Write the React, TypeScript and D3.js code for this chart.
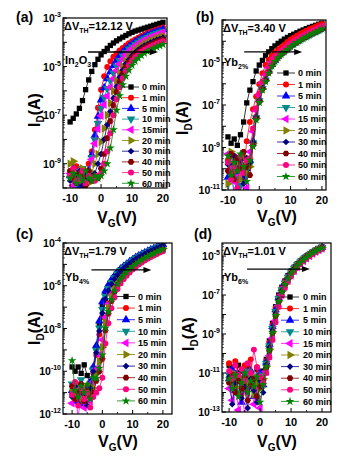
import * as d3 from "d3";

// gate voltage (V) for every row below
const VG = [-10, -9, -8, -7, -6, -5, -4, -3, -2, -1, 0, 1, 2, 3, 4, 5, 6, 7, 8, 9, 10, 11, 12, 13, 14, 15, 16, 17, 18, 19, 20];

const TIMES = ["0 min", "1 min", "5 min", "10 min", "15 min", "20 min", "30 min", "40 min", "50 min", "60 min"];
const TIMES_A = ["0 min", "1 min", "5 min", "10 min", "15min", "20 min", "30 min", "40 min", "50 min", "60 min"];
const COLORS = ["#000000", "#ff0000", "#0000ff", "#008b8b", "#ff00ff", "#808000", "#000080", "#800000", "#ff0080", "#008000"];
const SHAPES = ["square", "circle", "up", "down", "left", "right", "diamond", "hexagon", "circle", "star"];

// log10(I_D / A), one row per time
const IN2O3 = [
  [-7.28, -7.13, -6.95, -6.72, -6.4, -5.95, -5.55, -5.2, -4.92, -4.7, -4.52, -4.38, -4.25, -4.13, -4.03, -3.94, -3.86, -3.79, -3.72, -3.65, -3.59, -3.54, -3.5, -3.46, -3.42, -3.38, -3.34, -3.3, -3.26, -3.22, -3.18],
  [-9.3, -9.7, -9.1, -9.5, -9.8, -9.4, -9.0, -8.5, -7.6, -6.7, -5.95, -5.4, -5.02, -4.78, -4.6, -4.46, -4.34, -4.23, -4.13, -4.04, -3.96, -3.88, -3.81, -3.74, -3.68, -3.62, -3.57, -3.52, -3.47, -3.43, -3.39],
  [-9.5, -9.2, -9.6, -9.9, -9.4, -9.7, -9.3, -8.63, -7.83, -7.05, -6.38, -5.87, -5.5, -5.21, -4.96, -4.74, -4.56, -4.41, -4.28, -4.17, -4.08, -3.99, -3.91, -3.84, -3.77, -3.71, -3.66, -3.61, -3.56, -3.52, -3.47],
  [-9.6, -9.3, -9.8, -9.5, -9.2, -9.7, -9.6, -8.74, -8.02, -7.34, -6.73, -6.26, -5.9, -5.57, -5.26, -4.98, -4.75, -4.56, -4.41, -4.28, -4.18, -4.08, -4.0, -3.92, -3.85, -3.79, -3.73, -3.68, -3.63, -3.59, -3.54],
  [-9.4, -9.9, -9.5, -9.3, -9.8, -9.6, -9.4, -8.83, -8.17, -7.57, -7.02, -6.57, -6.21, -5.85, -5.5, -5.16, -4.9, -4.69, -4.51, -4.37, -4.26, -4.15, -4.06, -3.98, -3.91, -3.85, -3.79, -3.74, -3.69, -3.64, -3.6],
  [-9.0, -8.9, -9.4, -9.7, -9.2, -9.5, -9.8, -9.35, -9.0, -8.6, -8.1, -7.55, -7.0, -6.5, -6.0, -5.58, -5.25, -4.99, -4.77, -4.6, -4.46, -4.33, -4.23, -4.14, -4.07, -4.0, -3.94, -3.89, -3.83, -3.79, -3.74],
  [-9.7, -9.4, -9.6, -9.3, -9.9, -9.5, -9.6, -9.5, -9.4, -9.0, -8.6, -8.0, -7.4, -6.85, -6.3, -5.82, -5.44, -5.14, -4.89, -4.71, -4.55, -4.42, -4.31, -4.22, -4.14, -4.08, -4.01, -3.96, -3.9, -3.86, -3.81],
  [-9.3, -9.6, -9.8, -9.4, -9.5, -9.9, -9.3, -9.7, -9.5, -9.6, -9.2, -8.6, -7.95, -7.25, -6.6, -6.05, -5.62, -5.29, -5.02, -4.82, -4.65, -4.51, -4.4, -4.3, -4.22, -4.15, -4.09, -4.03, -3.97, -3.93, -3.88],
  [-9.5, -9.2, -9.7, -9.6, -9.3, -9.8, -9.5, -9.6, -9.7, -9.5, -9.4, -9.0, -8.5, -7.75, -7.0, -6.35, -5.85, -5.48, -5.17, -4.95, -4.77, -4.62, -4.5, -4.4, -4.31, -4.24, -4.18, -4.12, -4.06, -4.01, -3.96],
  [-9.6, -9.4, -9.8, -9.5, -9.7, -9.3, -9.6, -9.7, -9.5, -9.6, -9.5, -9.3, -9.0, -8.35, -7.6, -6.8, -6.2, -5.75, -5.4, -5.15, -4.95, -4.78, -4.65, -4.54, -4.45, -4.38, -4.31, -4.25, -4.19, -4.14, -4.09],
];

const YB2 = [
  [-8.5, -8.8, -8.6, -8.9, -8.4, -7.8, -6.9, -6.3, -5.9, -5.4, -5.12, -4.9, -4.68, -4.5, -4.35, -4.22, -4.1, -4.0, -3.9, -3.82, -3.74, -3.67, -3.6, -3.53, -3.47, -3.41, -3.35, -3.3, -3.25, -3.2, -3.15],
  [-9.6, -10.2, -9.4, -10.6, -9.8, -10.1, -8.7, -7.8, -7.2, -6.6, -6.02, -5.5, -5.12, -4.87, -4.68, -4.53, -4.4, -4.28, -4.16, -4.04, -3.92, -3.83, -3.74, -3.66, -3.58, -3.51, -3.44, -3.37, -3.31, -3.25, -3.19],
  [-10.4, -9.9, -11.3, -10.2, -9.7, -10.5, -10.0, -9.6, -8.7, -7.54, -6.75, -6.18, -5.78, -5.4, -5.1, -4.89, -4.71, -4.57, -4.45, -4.33, -4.2, -4.1, -4.01, -3.92, -3.83, -3.75, -3.67, -3.6, -3.53, -3.46, -3.39],
  [-11.2, -10.1, -9.5, -10.4, -10.8, -9.9, -10.3, -9.8, -8.78, -7.6, -6.8, -6.22, -5.82, -5.44, -5.12, -4.91, -4.73, -4.59, -4.47, -4.35, -4.22, -4.12, -4.03, -3.94, -3.85, -3.77, -3.69, -3.61, -3.54, -3.48, -3.4],
  [-9.3, -10.0, -10.6, -9.6, -10.3, -9.5, -10.9, -9.2, -8.25, -7.26, -6.54, -5.98, -5.59, -5.25, -4.98, -4.78, -4.62, -4.48, -4.36, -4.24, -4.11, -4.02, -3.93, -3.84, -3.76, -3.68, -3.6, -3.53, -3.46, -3.4, -3.33],
  [-10.7, -9.2, -10.1, -9.8, -10.5, -9.4, -10.2, -9.9, -8.82, -7.62, -6.82, -6.24, -5.84, -5.45, -5.13, -4.92, -4.74, -4.6, -4.48, -4.36, -4.23, -4.13, -4.04, -3.95, -3.86, -3.78, -3.7, -3.62, -3.55, -3.49, -3.41],
  [-9.8, -10.4, -9.4, -10.0, -9.6, -10.7, -9.5, -9.7, -8.75, -7.57, -6.78, -6.2, -5.8, -5.42, -5.11, -4.9, -4.72, -4.58, -4.46, -4.34, -4.21, -4.11, -4.02, -3.93, -3.84, -3.76, -3.68, -3.6, -3.53, -3.47, -3.4],
  [-10.1, -9.3, -10.5, -9.5, -10.0, -9.2, -9.9, -10.3, -8.9, -7.66, -6.85, -6.27, -5.87, -5.48, -5.15, -4.93, -4.76, -4.61, -4.49, -4.37, -4.24, -4.14, -4.05, -3.96, -3.87, -3.79, -3.71, -3.63, -3.56, -3.49, -3.42],
  [-9.7, -10.5, -9.9, -10.9, -9.4, -10.2, -9.6, -9.5, -8.1, -7.15, -6.45, -5.9, -5.51, -5.19, -4.93, -4.74, -4.59, -4.45, -4.33, -4.21, -4.09, -3.99, -3.9, -3.81, -3.73, -3.65, -3.58, -3.5, -3.44, -3.37, -3.3],
  [-9.4, -10.3, -9.7, -10.1, -9.3, -9.9, -10.6, -9.6, -8.95, -7.7, -6.88, -6.3, -5.9, -5.5, -5.17, -4.95, -4.77, -4.62, -4.5, -4.38, -4.25, -4.15, -4.06, -3.97, -3.88, -3.8, -3.72, -3.64, -3.57, -3.5, -3.42],
];

const YB4 = [
  [-9.8, -10.0, -9.8, -10.1, -9.7, -10.2, -10.6, -9.87, -8.91, -7.81, -6.93, -6.37, -6.04, -5.79, -5.58, -5.41, -5.25, -5.13, -5.02, -4.91, -4.8, -4.7, -4.62, -4.54, -4.47, -4.4, -4.33, -4.27, -4.21, -4.15, -4.09],
  [-11.0, -10.6, -11.3, -10.8, -11.5, -10.7, -11.1, -10.08, -9.24, -8.28, -7.46, -6.74, -6.31, -5.99, -5.73, -5.53, -5.36, -5.22, -5.1, -4.98, -4.87, -4.77, -4.68, -4.6, -4.52, -4.45, -4.38, -4.32, -4.26, -4.19, -4.13],
  [-10.9, -11.4, -10.7, -11.6, -11.0, -10.8, -10.5, -9.8, -8.8, -7.65, -6.75, -6.25, -5.95, -5.72, -5.53, -5.37, -5.22, -5.1, -4.99, -4.88, -4.78, -4.68, -4.6, -4.52, -4.45, -4.38, -4.31, -4.25, -4.19, -4.13, -4.07],
  [-10.6, -11.2, -10.9, -10.4, -11.3, -11.0, -10.7, -9.94, -9.02, -7.97, -7.11, -6.5, -6.13, -5.85, -5.63, -5.45, -5.29, -5.16, -5.04, -4.93, -4.83, -4.72, -4.64, -4.56, -4.49, -4.42, -4.35, -4.28, -4.22, -4.16, -4.1],
  [-11.5, -10.8, -12.2, -11.0, -11.7, -10.9, -11.4, -10.5, -9.9, -9.23, -8.53, -7.48, -6.85, -6.39, -6.04, -5.76, -5.56, -5.4, -5.26, -5.13, -5.01, -4.9, -4.81, -4.72, -4.64, -4.56, -4.49, -4.42, -4.36, -4.29, -4.23],
  [-10.8, -11.1, -10.6, -11.4, -10.9, -11.2, -10.7, -10.8, -10.12, -9.54, -8.88, -7.72, -7.03, -6.52, -6.14, -5.84, -5.63, -5.46, -5.31, -5.18, -5.06, -4.94, -4.85, -4.75, -4.67, -4.6, -4.52, -4.45, -4.39, -4.32, -4.26],
  [-11.2, -10.7, -11.5, -10.9, -11.1, -11.6, -10.8, -10.01, -9.13, -8.12, -7.28, -6.62, -6.22, -5.92, -5.68, -5.49, -5.32, -5.19, -5.07, -4.96, -4.85, -4.75, -4.66, -4.58, -4.51, -4.43, -4.36, -4.3, -4.24, -4.18, -4.12],
  [-10.7, -11.3, -11.0, -10.6, -11.4, -10.9, -11.2, -11.0, -10.45, -10.01, -9.41, -8.09, -7.3, -6.72, -6.3, -5.96, -5.73, -5.55, -5.4, -5.26, -5.13, -5.01, -4.91, -4.81, -4.73, -4.65, -4.57, -4.5, -4.44, -4.37, -4.31],
  [-11.1, -10.5, -11.6, -10.8, -11.3, -11.0, -11.7, -11.2, -11.0, -10.8, -10.3, -8.7, -7.75, -7.05, -6.55, -6.15, -5.9, -5.7, -5.53, -5.38, -5.24, -5.12, -5.01, -4.91, -4.82, -4.74, -4.66, -4.59, -4.52, -4.45, -4.39],
  [-9.5, -10.9, -11.2, -10.7, -11.0, -10.6, -11.3, -10.3, -10.34, -9.86, -9.24, -7.97, -7.21, -6.65, -6.24, -5.92, -5.7, -5.52, -5.37, -5.23, -5.1, -4.99, -4.89, -4.79, -4.71, -4.63, -4.56, -4.49, -4.42, -4.35, -4.29],
];

const YB6 = [
  [-10.6, -10.7, -11.2, -10.6, -10.9, -11.4, -10.7, -11.0, -11.6, -10.8, -11.2, -10.9, -10.3, -9.35, -8.45, -7.6, -7.0, -6.6, -6.28, -6.0, -5.77, -5.57, -5.4, -5.25, -5.11, -4.99, -4.88, -4.78, -4.69, -4.61, -4.53],
  [-10.5, -11.5, -10.4, -11.0, -12.1, -10.6, -11.3, -10.3, -11.8, -10.7, -11.4, -11.0, -10.37, -9.44, -8.54, -7.68, -7.06, -6.64, -6.31, -6.03, -5.8, -5.59, -5.42, -5.27, -5.13, -5.0, -4.89, -4.79, -4.7, -4.62, -4.54],
  [-11.3, -10.8, -11.9, -11.4, -12.5, -11.1, -11.7, -10.9, -12.2, -11.5, -11.0, -11.6, -10.44, -9.52, -8.62, -7.76, -7.12, -6.68, -6.35, -6.06, -5.82, -5.61, -5.44, -5.28, -5.14, -5.02, -4.9, -4.8, -4.71, -4.63, -4.55],
  [-11.1, -11.6, -11.0, -12.0, -11.3, -11.8, -10.9, -11.5, -11.2, -12.3, -11.4, -11.1, -10.51, -9.61, -8.71, -7.84, -7.18, -6.73, -6.38, -6.09, -5.85, -5.63, -5.45, -5.3, -5.16, -5.03, -4.92, -4.81, -4.72, -4.64, -4.56],
  [-11.8, -12.4, -11.2, -12.9, -11.5, -13.2, -12.0, -11.4, -12.6, -11.7, -12.8, -11.5, -10.93, -10.12, -9.22, -8.32, -7.54, -6.98, -6.59, -6.27, -6.0, -5.76, -5.56, -5.39, -5.25, -5.11, -4.99, -4.88, -4.78, -4.69, -4.61],
  [-11.4, -11.0, -11.7, -11.2, -11.9, -11.3, -11.6, -11.1, -12.1, -11.5, -11.8, -11.3, -10.65, -9.78, -8.88, -8.0, -7.3, -6.81, -6.45, -6.15, -5.9, -5.68, -5.49, -5.33, -5.19, -5.06, -4.94, -4.84, -4.74, -4.66, -4.58],
  [-11.2, -12.6, -11.5, -11.0, -12.3, -11.7, -12.8, -11.3, -11.9, -12.5, -11.4, -12.0, -10.58, -9.69, -8.79, -7.92, -7.24, -6.77, -6.42, -6.12, -5.87, -5.65, -5.47, -5.31, -5.17, -5.04, -4.93, -4.82, -4.73, -4.65, -4.57],
  [-11.5, -11.1, -12.0, -11.4, -11.8, -11.2, -12.4, -11.6, -11.3, -12.2, -11.7, -11.4, -10.72, -9.86, -8.96, -8.08, -7.36, -6.85, -6.48, -6.18, -5.92, -5.7, -5.51, -5.35, -5.2, -5.07, -4.95, -4.85, -4.75, -4.66, -4.58],
  [-10.9, -11.3, -10.6, -11.1, -10.8, -11.4, -10.5, -11.0, -9.8, -10.7, -11.2, -11.5, -11.0, -10.2, -9.3, -8.4, -7.6, -7.02, -6.62, -6.3, -6.02, -5.78, -5.58, -5.41, -5.26, -5.12, -5.0, -4.89, -4.79, -4.7, -4.62],
  [-11.3, -11.8, -11.1, -12.2, -11.5, -11.0, -12.0, -11.4, -11.7, -11.2, -12.5, -11.6, -10.68, -9.82, -8.92, -8.04, -7.33, -6.83, -6.46, -6.16, -5.91, -5.69, -5.5, -5.34, -5.2, -5.07, -4.95, -4.84, -4.75, -4.66, -4.58],
];

const TAGS = ["(a)", "(b)", "(c)", "(d)"];
const DVTH = ["12.12", "3.40", "1.79", "1.01"];
const SAMPLES = [["In", "2", "O", "3"], ["Yb", "2%"], ["Yb", "4%"], ["Yb", "6%"]];
const X_TICKS = [-10, 0, 10, 20];
const X_MINOR = [-5, 5, 15];
const Y_TICKS = [[-3, -5, -7, -9], [-5, -7, -9, -11], [-4, -6, -8, -10, -12], [-5, -7, -9, -11, -13]];
const X_DOMAINS = [[-12.3, 21.3], [-11.9, 21.3], [-13, 23], [-12.3, 22.9]];
const Y_DOMAINS = [[-10, -3], [-11, -3], [-12, -4], [-13, -4.33]];
// shift arrow: V start, V end, log10 I
const ARROWS = [[-4.2, 18.4, -4.4], [-4.8, 13.7, -4.5], [-3.6, 16.2, -5.26], [-4.2, 16.1, -5.67]];

const LAYOUT = [
  { box: { l: 63, r: 167, t: 18, b: 188 }, tag: [16, 22], ylab: [40, 110], xlab: [117, 223], leg: { top: 87, step: 10.7, l0: 122, l1: 139, m: 131, tx: 142 } },
  { box: { l: 222, r: 326, t: 20, b: 190 }, tag: [196, 22], ylab: [188, 118], xlab: [277, 222], leg: { top: 73, step: 11.5, l0: 277, l1: 295, m: 286, tx: 298 } },
  { box: { l: 63, r: 172, t: 243, b: 414 }, tag: [16, 239], ylab: [40, 328], xlab: [118, 447], leg: { top: 296.5, step: 11.6, l0: 117, l1: 135, m: 126, tx: 138 } },
  { box: { l: 222, r: 331, t: 243, b: 412 }, tag: [194, 239], ylab: [194, 334], xlab: [277, 447], leg: { top: 297, step: 11.6, l0: 281, l1: 299, m: 290, tx: 303 } },
];

const FONT = "Arial, 'Liberation Sans', Helvetica, sans-serif";

function hexagon(size: number) {
  const r = Math.sqrt(size / 2.6);
  const pts = d3.range(6).map((k) => {
    const a = (Math.PI / 3) * k;
    return [r * Math.cos(a), r * Math.sin(a)];
  });
  return "M" + pts.map((p) => p.join(",")).join("L") + "Z";
}

function marker(shape: string): { d: string; rot: number } {
  const s = 28;
  switch (shape) {
    case "square":
      return { d: d3.symbol(d3.symbolSquare, s)()!, rot: 0 };
    case "circle":
      return { d: d3.symbol(d3.symbolCircle, s)()!, rot: 0 };
    case "up":
      return { d: d3.symbol(d3.symbolTriangle, 32)()!, rot: 0 };
    case "down":
      return { d: d3.symbol(d3.symbolTriangle, 32)()!, rot: 180 };
    case "left":
      return { d: d3.symbol(d3.symbolTriangle, 32)()!, rot: -90 };
    case "right":
      return { d: d3.symbol(d3.symbolTriangle, 32)()!, rot: 90 };
    case "diamond":
      return { d: d3.symbol(d3.symbolSquare, 22)()!, rot: 45 };
    case "hexagon":
      return { d: hexagon(s), rot: 0 };
    default:
      return { d: d3.symbol(d3.symbolStar, 24)()!, rot: 0 };
  }
}

function Panel({ p, rows }: { p: number; rows: number[][] }) {
  const { box, tag, ylab, xlab, leg } = LAYOUT[p];
  const x = d3.scaleLinear().domain(X_DOMAINS[p]).range([box.l, box.r]);
  const y = d3
    .scaleLog()
    .domain(Y_DOMAINS[p].map((e) => Math.pow(10, e)))
    .range([box.b, box.t]);
  const line = d3
    .line<number>()
    .x((_, i) => x(VG[i]))
    .y((v) => y(Math.pow(10, v)));

  // log ticks: decades and 2..9 within each decade
  const [e0, e1] = Y_DOMAINS[p];
  const major: number[] = [];
  const minor: number[] = [];
  for (let e = Math.floor(e0); e <= Math.ceil(e1); e++) {
    if (e >= e0 && e <= e1) major.push(e);
    for (let k = 2; k < 10; k++) {
      const v = e + Math.log10(k);
      if (v > e0 && v < e1) minor.push(v);
    }
  }

  const times = p === 0 ? TIMES_A : TIMES;
  const sample = SAMPLES[p];
  const arrow = ARROWS[p];
  const ay = y(Math.pow(10, arrow[2]));
  const ax0 = x(arrow[0]);
  const ax1 = x(arrow[1]);
  const clipId = `clip-${p}`;

  return (
    <g>
      <defs>
        <clipPath id={clipId}>
          <rect x={box.l} y={box.t} width={box.r - box.l} height={box.b - box.t} />
        </clipPath>
      </defs>

      {/* curves */}
      <g clipPath={`url(#${clipId})`}>
        {rows.map((row, si) => {
          const m = marker(SHAPES[si]);
          return (
            <g key={si}>
              <path d={line(row) || ""} fill="none" stroke={COLORS[si]} strokeWidth={0.8} />
              {row.map((v, i) => (
                <path
                  key={i}
                  d={m.d}
                  fill={COLORS[si]}
                  transform={`translate(${x(VG[i])},${y(Math.pow(10, v))}) rotate(${m.rot})`}
                />
              ))}
            </g>
          );
        })}
      </g>

      {/* frame and ticks */}
      <rect x={box.l} y={box.t} width={box.r - box.l} height={box.b - box.t} fill="none" stroke="#000" strokeWidth={1.2} />
      {major.map((e) => (
        <line key={"M" + e} x1={box.l} x2={box.l + 4} y1={y(Math.pow(10, e))} y2={y(Math.pow(10, e))} stroke="#000" strokeWidth={1} />
      ))}
      {minor.map((e, i) => (
        <line key={"m" + i} x1={box.l} x2={box.l + 2} y1={y(Math.pow(10, e))} y2={y(Math.pow(10, e))} stroke="#000" strokeWidth={0.7} />
      ))}
      {X_TICKS.map((v) => (
        <line key={"X" + v} x1={x(v)} x2={x(v)} y1={box.b} y2={box.b - 4} stroke="#000" strokeWidth={1} />
      ))}
      {X_MINOR.map((v) => (
        <line key={"x" + v} x1={x(v)} x2={x(v)} y1={box.b} y2={box.b - 2} stroke="#000" strokeWidth={0.8} />
      ))}

      {/* tick labels */}
      {X_TICKS.map((v) => (
        <text key={"xt" + v} x={x(v)} y={box.b + 14} textAnchor="middle" fontSize={11} fontWeight="bold">
          {v}
        </text>
      ))}
      {Y_TICKS[p].map((e) => (
        <text key={"yt" + e} x={box.l - 2} y={y(Math.pow(10, e)) + 4} textAnchor="end" fontSize={10.5} fontWeight="bold">
          10
          <tspan dy={-5} fontSize={7}>
            {e}
          </tspan>
        </text>
      ))}

      {/* axis titles */}
      <text transform={`translate(${ylab[0]},${ylab[1]}) rotate(-90)`} textAnchor="middle" fontSize={16} fontWeight="bold">
        I
        <tspan dy={4} fontSize={10}>
          D
        </tspan>
        <tspan dy={-4}>(A)</tspan>
      </text>
      <text x={xlab[0]} y={xlab[1]} textAnchor="middle" fontSize={16} fontWeight="bold">
        V
        <tspan dy={4} fontSize={10}>
          G
        </tspan>
        <tspan dy={-4}>(V)</tspan>
      </text>
      <text x={tag[0]} y={tag[1]} fontSize={14} fontWeight="bold">
        {TAGS[p]}
      </text>

      {/* annotations */}
      <text x={box.l + 1} y={box.t + 12} fontSize={11} fontWeight="bold">
        ΔV
        <tspan dy={3} fontSize={7}>
          TH
        </tspan>
        <tspan dy={-3}>={DVTH[p]} V</tspan>
      </text>
      <text x={box.l + 2} y={box.t + (p < 2 ? 46 : 38)} fontSize={11} fontWeight="bold">
        {sample[0]}
        <tspan dy={3} fontSize={7}>
          {sample[1]}
        </tspan>
        {sample.length > 2 && <tspan dy={-3}>{sample[2]}</tspan>}
        {sample.length > 2 && (
          <tspan dy={3} fontSize={7}>
            {sample[3]}
          </tspan>
        )}
      </text>
      <line x1={ax0} x2={ax1 - 7} y1={ay} y2={ay} stroke="#000" strokeWidth={1.3} />
      <path d={`M${ax1},${ay}L${ax1 - 8},${ay - 3}L${ax1 - 8},${ay + 3}Z`} fill="#000" />

      {/* legend */}
      {times.map((t, si) => {
        const m = marker(SHAPES[si]);
        const ly = leg.top + si * leg.step;
        return (
          <g key={"lg" + si}>
            <line x1={leg.l0} x2={leg.l1} y1={ly} y2={ly} stroke={COLORS[si]} strokeWidth={0.8} />
            <path d={m.d} fill={COLORS[si]} transform={`translate(${leg.m},${ly}) rotate(${m.rot})`} />
            <text x={leg.tx} y={ly + 3.2} fontSize={9} fontWeight="bold">
              {t}
            </text>
          </g>
        );
      })}
    </g>
  );
}

export default function App() {
  const panels = [IN2O3, YB2, YB4, YB6];
  return (
    <svg
      width={359}
      height={468}
      style={{ position: "absolute", left: 0, top: 0, background: "#fff" }}
      fontFamily={FONT}
    >
      <rect width={359} height={468} fill="#fff" />
      {panels.map((rows, p) => (
        <Panel key={p} p={p} rows={rows} />
      ))}
    </svg>
  );
}
